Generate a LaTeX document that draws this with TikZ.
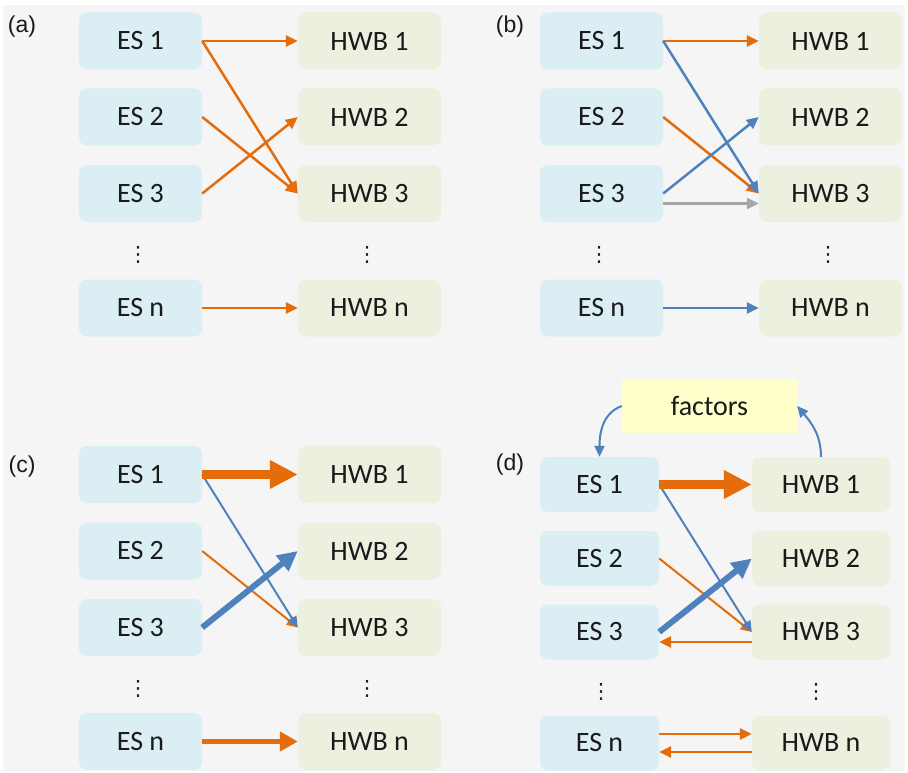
\documentclass[tikz,border=0pt]{standalone}
\usepackage{fontspec}
\setmainfont{Carlito}
\newfontfamily\lblfont{Liberation Sans}
\newfontfamily\symfont{DejaVu Sans}
\usetikzlibrary{arrows.meta}
\definecolor{esfill}{HTML}{DAEEF3}
\definecolor{hwbfill}{HTML}{EBF1DE}
\definecolor{facfill}{HTML}{FFFFCC}
\definecolor{orng}{HTML}{E46C0A}
\definecolor{blu}{HTML}{4F81BD}
\definecolor{gry}{HTML}{A6A6A6}
\definecolor{bgc}{HTML}{F5F5F5}
\definecolor{txt}{HTML}{1A1A1A}
\tikzset{
  esbox/.style={rectangle, rounded corners=8pt, fill=esfill, minimum width=123pt, minimum height=57pt, inner sep=0pt, text=txt, font=\fontsize{28}{30}\selectfont},
  hwbbox/.style={esbox, fill=hwbfill, minimum width=143pt},
  esboxd/.style={esbox, minimum width=119pt, minimum height=55pt},
  hwbboxd/.style={hwbbox, minimum width=138pt, minimum height=55pt},
  facbox/.style={rectangle, fill=facfill, minimum width=175pt, minimum height=54pt, inner sep=0pt, text=txt, font=\fontsize{28}{30}\selectfont},
  dotsnode/.style={inner sep=0pt, text=txt, font=\symfont\fontsize{21}{21}\selectfont},
  plabel/.style={inner sep=0pt, text=txt, font=\lblfont\fontsize{23}{25}\selectfont},
  oarr/.style={draw=orng, line width=2.5pt, -{Triangle[length=12pt,width=11pt]}},
  barr/.style={draw=blu, line width=2.5pt, -{Triangle[length=12pt,width=11pt]}},
  garr/.style={draw=gry, line width=2.5pt, -{Triangle[length=12pt,width=11pt]}},
  othin/.style={draw=orng, line width=2pt, -{Triangle[length=11pt,width=10pt]}},
  bthin/.style={draw=blu, line width=2pt, -{Triangle[length=11pt,width=10pt]}},
  othick/.style={draw=orng, line width=8.5pt, -{Triangle[length=28pt,width=27pt]}},
  bthick/.style={draw=blu, line width=6pt, -{Triangle[length=20pt,width=19pt]}},
  omed/.style={draw=orng, line width=5.5pt, -{Triangle[length=18pt,width=19pt]}},
}
\begin{document}
\begin{tikzpicture}[x=1pt,y=-1pt]
\useasboundingbox (0,0) rectangle (908,773);
\fill[white] (0,0) rectangle (908,773);
\fill[bgc] (3,5) rectangle (905,771);

% ---------- panel (a)
\node[plabel] (la) at (22,27) {(a)};
\node[esbox] (a1) at (140.5,41) {ES 1};
\node[esbox] (a2) at (140.5,117) {ES 2};
\node[esbox] (a3) at (140.5,193.5) {ES 3};
\node[esbox] (an) at (140.5,308) {ES n};
\node[hwbbox] (ah1) at (369.5,41) {HWB 1};
\node[hwbbox] (ah2) at (369.5,117) {HWB 2};
\node[hwbbox] (ah3) at (369.5,193.5) {HWB 3};
\node[hwbbox] (ahn) at (369.5,308) {HWB n};
\node[dotsnode] (ad1) at (138,255) {⋮};
\node[dotsnode] (ad2) at (367,255) {⋮};
\draw[oarr] (a1.east) -- (ah1.west);
\draw[oarr] (a1.east) -- (ah3.west);
\draw[oarr] (a2.east) -- (ah3.west);
\draw[oarr] (a3.east) -- (ah2.west);
\draw[oarr] (an.east) -- (ahn.west);

% ---------- panel (b)
\node[plabel] (lb) at (510,27) {(b)};
\node[esbox] (b1) at (601.5,41) {ES 1};
\node[esbox] (b2) at (601.5,117) {ES 2};
\node[esbox] (b3) at (601.5,193.5) {ES 3};
\node[esbox] (bn) at (601.5,308) {ES n};
\node[hwbbox] (bh1) at (830.5,41) {HWB 1};
\node[hwbbox] (bh2) at (830.5,117) {HWB 2};
\node[hwbbox] (bh3) at (830.5,193.5) {HWB 3};
\node[hwbbox] (bhn) at (830.5,308) {HWB n};
\node[dotsnode] (bd1) at (599,255) {⋮};
\node[dotsnode] (bd2) at (828,255) {⋮};
\draw[oarr] (b1.east) -- (bh1.west);
\draw[oarr] (b2.east) -- (bh3.west);
\draw[barr] (b1.east) -- (bh3.west);
\draw[barr] (b3.east) -- (bh2.west);
\draw[garr] ([yshift=-10pt]b3.east) -- ([yshift=-10pt]bh3.west);
\draw[barr] (bn.east) -- (bhn.west);

% ---------- panel (c)
\node[plabel] (lc) at (22,467) {(c)};
\node[esbox] (c1) at (140.5,474.5) {ES 1};
\node[esbox] (c2) at (140.5,551) {ES 2};
\node[esbox] (c3) at (140.5,627.5) {ES 3};
\node[esbox] (cn) at (140.5,741.5) {ES n};
\node[hwbbox] (ch1) at (369.5,474.5) {HWB 1};
\node[hwbbox] (ch2) at (369.5,551) {HWB 2};
\node[hwbbox] (ch3) at (369.5,627.5) {HWB 3};
\node[hwbbox] (chn) at (369.5,741.5) {HWB n};
\node[dotsnode] (cd1) at (138,689) {⋮};
\node[dotsnode] (cd2) at (367,689) {⋮};
\draw[othin] (c2.east) -- (ch3.west);
\draw[bthin] (c1.east) -- (ch3.west);
\draw[othick] (c1.east) -- (ch1.west);
\draw[bthick] (c3.east) -- (ch2.west);
\draw[omed] (cn.east) -- (chn.west);

% ---------- panel (d)
\node[plabel] (ld) at (510,465) {(d)};
\node[facbox] (fac) at (709.5,406) {factors};
\node[esboxd] (d1) at (599.5,484.5) {ES 1};
\node[esboxd] (d2) at (599.5,558.5) {ES 2};
\node[esboxd] (d3) at (599.5,632) {ES 3};
\node[esboxd] (dn) at (599.5,743) {ES n};
\node[hwbboxd] (dh1) at (821,484.5) {HWB 1};
\node[hwbboxd] (dh2) at (821,558.5) {HWB 2};
\node[hwbboxd] (dh3) at (821,632) {HWB 3};
\node[hwbboxd] (dhn) at (821,743) {HWB n};
\node[dotsnode] (dd1) at (601,692) {⋮};
\node[dotsnode] (dd2) at (816,692) {⋮};
\draw[bthin] (fac.west) to[out=200,in=90] (d1.north);
\draw[bthin] (dh1.north) to[out=90,in=-50] (fac.east);
\draw[othin] (d2.east) -- (dh3.west);
\draw[bthin] (d1.east) -- (dh3.west);
\draw[othick] (d1.east) -- (dh1.west);
\draw[bthick] (d3.east) -- (dh2.west);
\draw[oarr] ([yshift=-10pt]dh3.west) -- ([yshift=-10pt]d3.east);
\draw[oarr] ([yshift=9pt]dn.east) -- ([yshift=9pt]dhn.west);
\draw[oarr] ([yshift=-9pt]dhn.west) -- ([yshift=-9pt]dn.east);
\end{tikzpicture}
\end{document}
